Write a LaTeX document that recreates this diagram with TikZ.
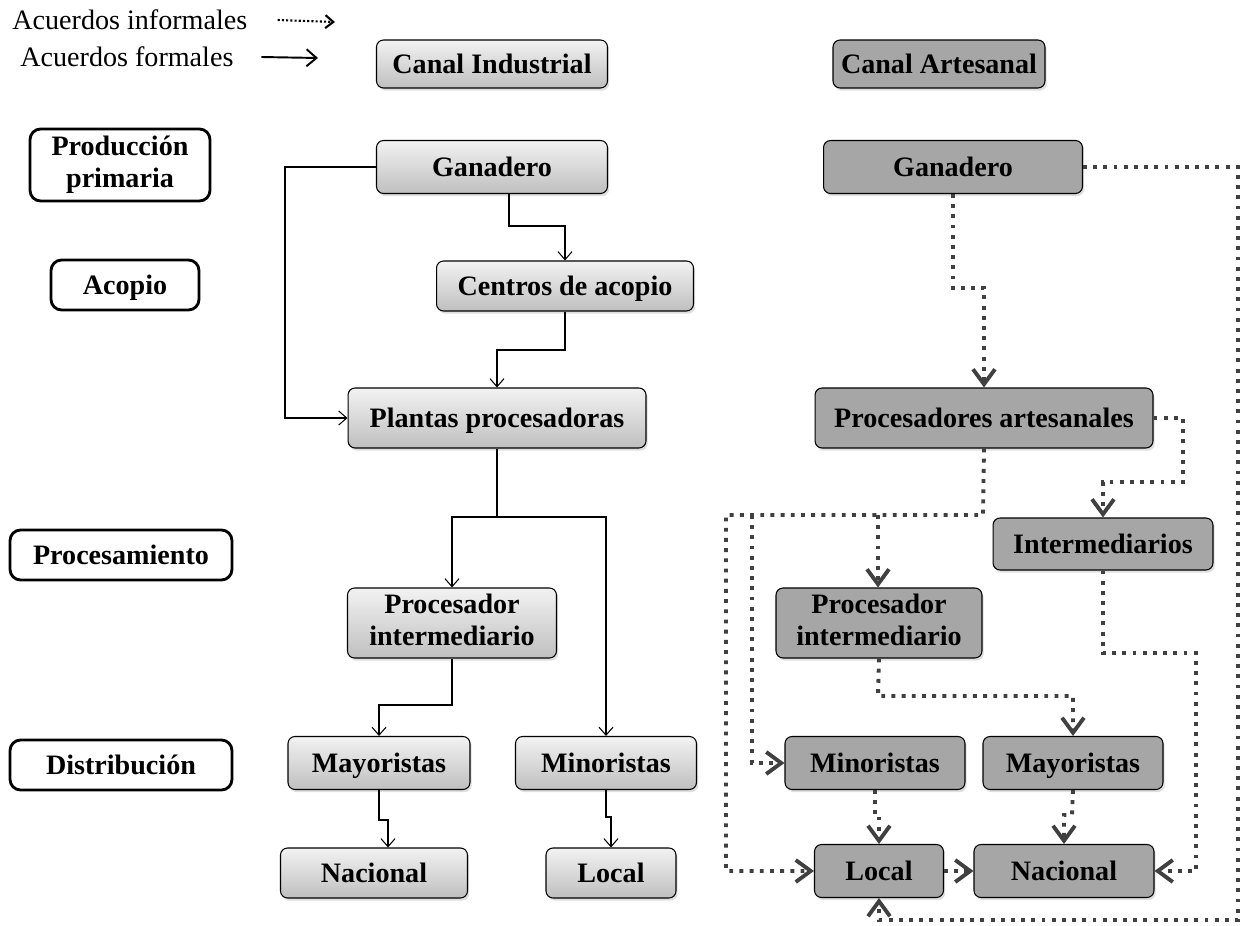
\documentclass[tikz,border=0pt]{standalone}
\usepackage{fontspec}
\setmainfont{Liberation Serif}
\usetikzlibrary{arrows.meta, positioning, shadows, calc}
\newcommand{\puntal}{\rule[-4pt]{0pt}{18.5pt}}
\tikzset{
    industrial/.style={draw, rounded corners=4pt, top color=gray!10, bottom color=gray!50, line width=0.6pt,
        font=\fontsize{16}{18}\selectfont\bfseries, align=center, inner sep=1pt,
        execute at begin node=\puntal, execute at end node=\puntal,
        drop shadow={opacity=0.25, shadow xshift=1pt, shadow yshift=-1.5pt}},
    artesanal/.style={draw, rounded corners=4pt, fill=black!35, line width=0.6pt,
        font=\fontsize{16}{18}\selectfont\bfseries, align=center, inner sep=1pt,
        execute at begin node=\puntal, execute at end node=\puntal,
        drop shadow={opacity=0.25, shadow xshift=1pt, shadow yshift=-1.5pt}},
    etapa/.style={draw, line width=1.6pt, rounded corners=6pt, fill=white,
        font=\fontsize{16}{18}\selectfont\bfseries, align=center, inner sep=1pt,
        execute at begin node=\puntal, execute at end node=\puntal},
    leyenda/.style={inner sep=0pt, anchor=west, font=\fontsize{16}{18}\selectfont},
    formal/.style={-{Straight Barb[length=1.6mm,width=2.8mm]}, line width=0.6pt},
    informal/.style={-{Straight Barb[length=3mm,width=4.4mm]}, draw=black!75, line width=2.2pt,
        dash pattern=on 2.2pt off 3.6pt},
}
\begin{document}
\begin{tikzpicture}[x=0.02cm, y=-0.02cm]
\useasboundingbox (0,0) rectangle (1249,926);
% leyenda
\node[leyenda] (linf) at (12,20) {Acuerdos informales};
\node[leyenda] (lfor) at (20,57) {Acuerdos formales};
\coordinate (finf) at (335,22);
\coordinate (ffor) at (318,58);
\draw[black, line width=1.2pt, dash pattern=on 1.2pt off 1.2pt, -{Straight Barb[length=1.6mm,width=2.6mm]}]
    ([xshift=0.6cm]linf.east) -- (finf);
\draw[line width=1.1pt, -{Straight Barb[length=2mm,width=3.4mm]}] ([xshift=0.55cm]lfor.east) -- (ffor);
% etapas
\node[etapa, minimum width=3.6cm, minimum height=1.44cm] (ep) at (120,165) {Producción\\primaria};
\node[etapa, minimum width=2.96cm, minimum height=1cm] (eac) at (125,285) {Acopio};
\node[etapa, minimum width=4.44cm, minimum height=1cm] (epr) at (121,555) {Procesamiento};
\node[etapa, minimum width=4.44cm, minimum height=1cm] (edi) at (121,765) {Distribución};
% canal industrial
\node[industrial, minimum width=4.62cm, minimum height=0.96cm] (ci) at (492,64) {Canal Industrial};
\node[industrial, minimum width=4.62cm, minimum height=1.06cm] (gi) at (492,167) {Ganadero};
\node[industrial, minimum width=5.14cm, minimum height=1cm] (coi) at (565,286) {Centros de acopio};
\node[industrial, minimum width=5.96cm, minimum height=1.2cm] (ppi) at (497,418) {Plantas procesadoras};
\node[industrial, minimum width=4.18cm, minimum height=1.4cm] (pii) at (452,623) {Procesador\\intermediario};
\node[industrial, minimum width=3.64cm, minimum height=1.06cm] (mayi) at (379,763) {Mayoristas};
\node[industrial, minimum width=3.62cm, minimum height=1.06cm] (mini) at (606,763) {Minoristas};
\node[industrial, minimum width=3.74cm, minimum height=1cm] (naci) at (374,873) {Nacional};
\node[industrial, minimum width=2.6cm, minimum height=1cm] (loci) at (611,873) {Local};
\draw[formal] (gi.west) -- (285,167) |- (ppi.west);
\draw[formal] (gi.south -| 509,0) -- (509,226) -| (coi);
\draw[formal] (coi.south) -- (565,350) -| (ppi);
\draw[line width=1.2pt] (ppi.south) -- (497,517) coordinate (rama);
\draw[formal] (rama) -| (pii);
\draw[formal] (rama) -| (mini);
\draw[formal] (pii.south) -- (452,705) -| (mayi);
\draw[formal] (mayi.south) -- (379,820) -| (naci.north -| 388,0);
\draw[formal] (mini.south) -- (606,817) -| (loci);
% canal artesanal
\node[artesanal, minimum width=4.24cm, minimum height=0.96cm] (ca) at (939,64) {Canal Artesanal};
\node[artesanal, minimum width=5.18cm, minimum height=1.06cm] (ga) at (953,167) {Ganadero};
\node[artesanal, minimum width=6.76cm, minimum height=1.2cm] (pa) at (984,418) {Procesadores artesanales};
\node[artesanal, minimum width=4.4cm, minimum height=1.04cm] (inter) at (1103,544) {Intermediarios};
\node[artesanal, minimum width=4.12cm, minimum height=1.4cm] (pia) at (879,623) {Procesador\\intermediario};
\node[artesanal, minimum width=3.6cm, minimum height=1.06cm] (mina) at (875,763) {Minoristas};
\node[artesanal, minimum width=3.6cm, minimum height=1.06cm] (maya) at (1073,763) {Mayoristas};
\node[artesanal, minimum width=2.58cm, minimum height=1.06cm] (la) at (879,871) {Local};
\node[artesanal, minimum width=3.6cm, minimum height=1.06cm] (na) at (1064,871) {Nacional};
\coordinate (rb) at (752,515);
\coordinate (rc) at (878,515);
\draw[informal] (ga.south) -- (953,288) -| (pa);
\draw[informal] (ga.east) -| (1238,920) -| (la.south);
\draw[informal] (pa.east) -| (1183,482) -| (inter);
\draw[informal] (pa.south) -- (983,515) -- (726,515) |- (la.west);
\draw[informal] (rb) |- (mina.west);
\draw[informal] (rc) -- (rc |- pia.north);
\draw[informal] (pia.south) -- (878,696) -| (maya);
\draw[informal] (inter.south) |- (1196,653) |- (na.east);
\draw[informal] (mina.south) -- (875,815) -| (la.north);
\draw[informal] (maya.south) -- (1072,815) -| (na.north);
\draw[informal] (la.east) -- (na.west);
\end{tikzpicture}
\end{document}
